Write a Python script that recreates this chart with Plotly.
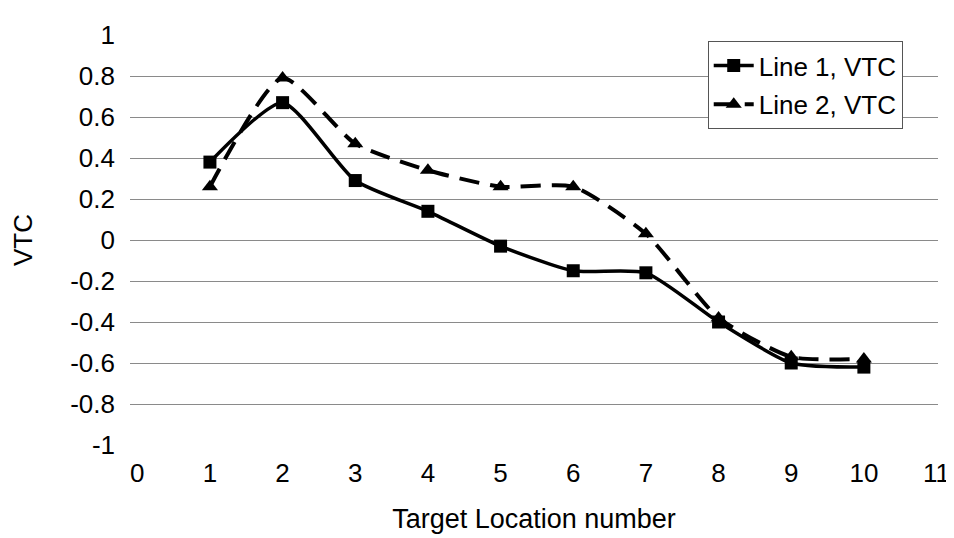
import plotly.graph_objects as go

x_vals = [1, 2, 3, 4, 5, 6, 7, 8, 9, 10]
line1_vtc = [0.38, 0.67, 0.29, 0.14, -0.03, -0.15, -0.16, -0.40, -0.60, -0.62]
line2_vtc = [0.26, 0.79, 0.47, 0.34, 0.26, 0.26, 0.03, -0.38, -0.57, -0.58]
x_ticks = list(range(0, 12))
y_ticks = [1, 0.8, 0.6, 0.4, 0.2, 0, -0.2, -0.4, -0.6, -0.8, -1]

fig = go.Figure()
fig.add_trace(go.Scatter(
    x=x_vals, y=line1_vtc, name="Line 1, VTC", mode="lines+markers",
    legendgroup="a",
    line=dict(color="black", width=3.5, shape="spline", smoothing=0.6),
    marker=dict(symbol="square", size=13, color="black"),
))
fig.add_trace(go.Scatter(
    x=x_vals, y=line2_vtc, name="Line 2, VTC", mode="lines+markers",
    legendgroup="b",
    line=dict(color="black", width=4, dash="20px,11px", shape="spline", smoothing=0.6),
    marker=dict(symbol="triangle-up", size=14, color="black"),
))

font_family = "Liberation Sans, Arial, sans-serif"
fig.update_layout(
    width=954, height=538,
    margin=dict(l=121, r=14, t=26, b=101),
    paper_bgcolor="white", plot_bgcolor="white",
    font=dict(family=font_family, size=26, color="black"),
    showlegend=True,
    legend=dict(
        x=0.715, y=0.985, xanchor="left", yanchor="top",
        bgcolor="white", bordercolor="#555", borderwidth=1,
        font=dict(size=26, family=font_family, color="black"),
        tracegroupgap=2, itemwidth=40,
    ),
    xaxis=dict(
        range=[-0.1, 11.02], tickvals=x_ticks, ticktext=[str(t) for t in x_ticks],
        showgrid=False, zeroline=False, showline=False, ticks="",
        tickfont=dict(size=26), ticklabelstandoff=10,
        title=dict(text="Target Location number", font=dict(size=27), standoff=22),
    ),
    yaxis=dict(
        range=[-1, 1], tickvals=y_ticks, ticktext=[("%g" % t) for t in y_ticks],
        showgrid=True, gridcolor="#8a8a8a", gridwidth=1,
        zeroline=False, showline=False, ticks="",
        tickfont=dict(size=26), ticklabelstandoff=14,
        title=dict(text="VTC", font=dict(size=26), standoff=32),
    ),
)

fig.write_html("out.html")
